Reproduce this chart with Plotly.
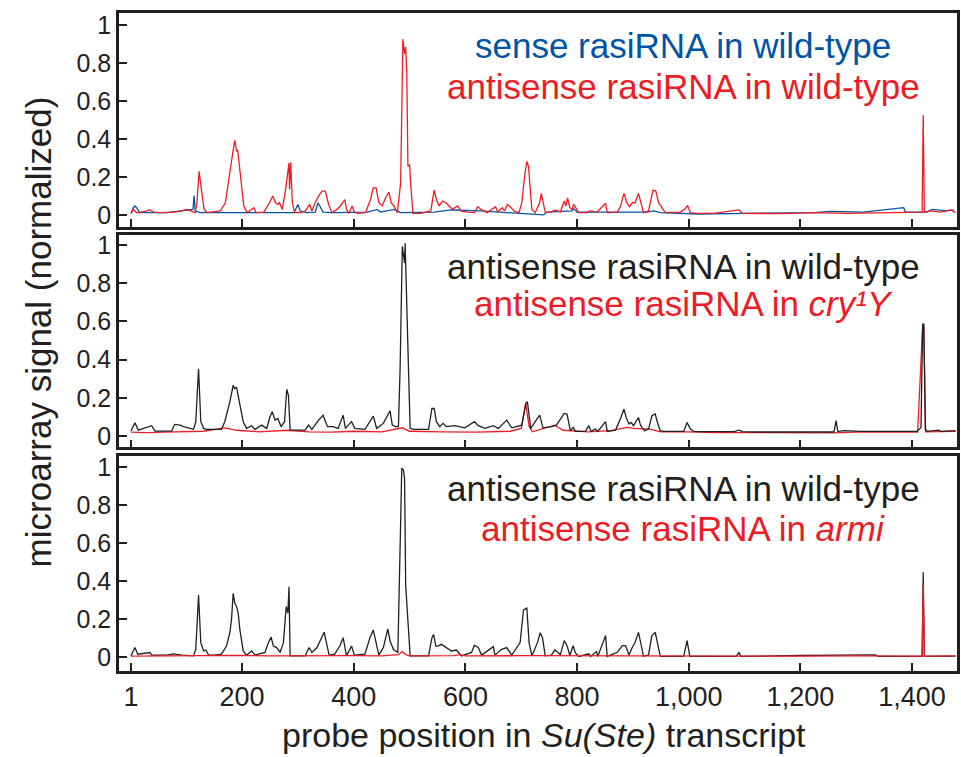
import plotly.graph_objects as go

# ---------------- data ----------------
X_TICKS = [1, 200, 400, 600, 800, 1000, 1200, 1400]
X_TICK_LABELS = ["1", "200", "400", "600", "800", "1,000", "1,200", "1,400"]
Y_TICKS = [0, 0.2, 0.4, 0.6, 0.8, 1]
Y_TICK_LABELS = ["0", "0.2", "0.4", "0.6", "0.8", "1"]

# Panel 1: antisense rasiRNA in wild-type (red)
P1_ANTI_X = [1, 5, 11, 17, 29, 35, 41, 53, 77, 92, 101, 110, 116, 119, 123, 127, 132, 137, 149, 161,
             170, 179, 185, 187, 190, 192, 194, 198, 203, 209, 216, 221, 225, 239, 249, 255, 260, 264,
             267, 272, 278, 282, 284, 285, 287, 290, 294, 305, 313, 321, 325, 331, 337, 343, 349, 355,
             361, 370, 376, 384, 387, 391, 397, 400, 406, 421, 430, 435, 440, 445, 451, 457, 463, 467,
             472, 478, 484, 488, 491, 493, 495, 497, 500, 502, 506, 520, 538, 544, 548, 553, 559, 565,
             571, 577, 586, 592, 604, 616, 622, 628, 639, 654, 658, 666, 670, 675, 679, 687, 696, 701,
             706, 710, 713, 716, 719, 725, 733, 736, 740, 743, 752, 761, 770, 777, 780, 783, 787, 791,
             794, 799, 803, 818, 823, 836, 851, 854, 872, 878, 884, 889, 894, 899, 904, 910, 915, 919,
             928, 933, 936, 941, 946, 952, 958, 985, 994, 998, 1003, 1015, 1045, 1090, 1096, 1164, 1224,
             1284, 1373, 1415, 1418, 1420, 1422, 1433, 1451, 1469, 1478]
P1_ANTI_Y = [0.010, 0.031, 0.014, 0.014, 0.023, 0.028, 0.017, 0.014, 0.017, 0.023, 0.031, 0.023, 0.014,
             0.066, 0.231, 0.136, 0.031, 0.014, 0.017, 0.023, 0.066, 0.257, 0.362, 0.393, 0.336, 0.344,
             0.292, 0.170, 0.049, 0.014, 0.028, 0.040, 0.014, 0.017, 0.066, 0.101, 0.066, 0.057, 0.066,
             0.031, 0.136, 0.240, 0.275, 0.136, 0.278, 0.066, 0.014, 0.014, 0.023, 0.057, 0.023, 0.066,
             0.101, 0.127, 0.127, 0.057, 0.014, 0.031, 0.049, 0.083, 0.031, 0.010, 0.049, 0.023, 0.010,
             0.014, 0.083, 0.144, 0.144, 0.066, 0.049, 0.092, 0.122, 0.066, 0.049, 0.014, 0.170, 0.925,
             0.849, 0.883, 0.744, 0.257, 0.266, 0.162, 0.010, 0.010, 0.023, 0.132, 0.083, 0.049, 0.075,
             0.066, 0.049, 0.031, 0.049, 0.023, 0.017, 0.014, 0.045, 0.031, 0.014, 0.045, 0.017, 0.040,
             0.023, 0.057, 0.049, 0.023, 0.014, 0.066, 0.205, 0.283, 0.257, 0.136, 0.031, 0.014, 0.066,
             0.115, 0.057, 0.014, 0.017, 0.028, 0.017, 0.075, 0.049, 0.092, 0.040, 0.031, 0.057, 0.031,
             0.014, 0.014, 0.023, 0.017, 0.063, 0.014, 0.017, 0.049, 0.115, 0.066, 0.045, 0.066, 0.066,
             0.115, 0.057, 0.014, 0.023, 0.083, 0.132, 0.127, 0.066, 0.040, 0.014, 0.017, 0.035, 0.052,
             0.014, 0.010, 0.010, 0.028, 0.010, 0.009, 0.014, 0.010, 0.014, 0.017, 0.017, 0.527, 0.017,
             0.023, 0.017, 0.028, 0.014]

# Panel 1: sense rasiRNA in wild-type (blue)
P1_SENSE_X = [1, 5, 8, 11, 16, 29, 65, 89, 107, 112, 114, 116, 125, 185, 221, 245, 293, 300, 304, 316,
              331, 336, 340, 345, 364, 424, 442, 448, 472, 484, 544, 574, 628, 740, 746, 791, 794, 800,
              925, 937, 949, 985, 1015, 1104, 1224, 1254, 1313, 1385, 1388, 1427, 1436, 1463, 1475]
P1_SENSE_Y = [0.010, 0.040, 0.049, 0.040, 0.017, 0.014, 0.014, 0.023, 0.028, 0.031, 0.104, 0.023, 0.014,
              0.014, 0.017, 0.014, 0.014, 0.057, 0.023, 0.014, 0.017, 0.066, 0.040, 0.017, 0.014, 0.017,
              0.031, 0.017, 0.031, 0.014, 0.017, 0.028, 0.023, 0.002, 0.017, 0.023, 0.035, 0.017, 0.017,
              0.023, 0.014, 0.010, 0.007, 0.010, 0.014, 0.021, 0.017, 0.040, 0.017, 0.017, 0.031, 0.023,
              0.028]

# Panel 2: antisense rasiRNA in wild-type (black)
P2_WT_X = [1, 8, 14, 38, 44, 74, 79, 89, 95, 113, 117, 122, 126, 131, 137, 163, 169, 178, 184, 187, 190,
           196, 202, 208, 217, 223, 235, 244, 250, 254, 259, 264, 270, 276, 280, 283, 286, 295, 313, 319,
           325, 337, 345, 353, 363, 372, 381, 385, 396, 402, 420, 435, 441, 453, 461, 465, 469, 475, 480,
           483, 487, 491, 492, 495, 498, 501, 507, 534, 540, 544, 548, 554, 560, 566, 581, 599, 616, 623,
           635, 650, 659, 674, 683, 701, 708, 711, 717, 733, 739, 754, 763, 777, 782, 788, 793, 797, 806,
           815, 821, 825, 833, 837, 851, 854, 869, 875, 879, 884, 888, 893, 897, 901, 906, 910, 913, 916,
           921, 928, 934, 940, 944, 949, 955, 973, 991, 997, 1003, 1009, 1021, 1081, 1090, 1096, 1128,
           1260, 1264, 1267, 1278, 1307, 1409, 1416, 1419, 1421, 1424, 1427, 1448, 1451, 1478]
P2_WT_Y = [0.026, 0.069, 0.031, 0.054, 0.026, 0.026, 0.061, 0.057, 0.049, 0.035, 0.075, 0.352, 0.075,
           0.040, 0.035, 0.035, 0.075, 0.179, 0.265, 0.248, 0.256, 0.161, 0.075, 0.040, 0.054, 0.035,
           0.057, 0.040, 0.101, 0.127, 0.083, 0.092, 0.049, 0.075, 0.244, 0.213, 0.031, 0.031, 0.031,
           0.057, 0.035, 0.083, 0.109, 0.049, 0.049, 0.040, 0.109, 0.040, 0.075, 0.040, 0.035, 0.104,
           0.040, 0.066, 0.106, 0.132, 0.057, 0.049, 0.049, 0.352, 0.993, 0.906, 1.010, 0.612, 0.352,
           0.040, 0.035, 0.035, 0.144, 0.144, 0.075, 0.049, 0.066, 0.049, 0.054, 0.043, 0.075, 0.054,
           0.040, 0.054, 0.040, 0.083, 0.043, 0.057, 0.170, 0.179, 0.040, 0.109, 0.043, 0.049, 0.057,
           0.118, 0.115, 0.028, 0.045, 0.024, 0.024, 0.024, 0.054, 0.024, 0.036, 0.024, 0.075, 0.024,
           0.031, 0.071, 0.101, 0.141, 0.097, 0.063, 0.071, 0.054, 0.080, 0.097, 0.063, 0.045, 0.028,
           0.036, 0.106, 0.115, 0.071, 0.028, 0.024, 0.024, 0.024, 0.071, 0.036, 0.024, 0.023, 0.023,
           0.031, 0.023, 0.021, 0.021, 0.080, 0.023, 0.028, 0.024, 0.024, 0.045, 0.586, 0.586, 0.036,
           0.024, 0.031, 0.024, 0.028]

# Panel 2: antisense rasiRNA in cry1Y (red)
P2_CRY_X = [1, 30, 60, 100, 130, 169, 190, 230, 280, 320, 360, 400, 450, 487, 500, 560, 620, 680, 700,
            708, 714, 720, 760, 775, 820, 860, 890, 900, 930, 950, 1000, 1050, 1150, 1260, 1300, 1410,
            1419, 1421, 1424, 1478]
P2_CRY_Y = [0.020, 0.018, 0.020, 0.022, 0.025, 0.043, 0.030, 0.022, 0.030, 0.022, 0.020, 0.025, 0.022,
            0.043, 0.025, 0.022, 0.020, 0.025, 0.040, 0.170, 0.050, 0.022, 0.057, 0.030, 0.022, 0.028,
            0.045, 0.040, 0.036, 0.022, 0.022, 0.018, 0.016, 0.016, 0.020, 0.020, 0.575, 0.575, 0.022,
            0.024]

# Panel 3: antisense rasiRNA in wild-type (black)
P3_WT_X = [1, 8, 13, 35, 38, 65, 77, 86, 92, 113, 117, 122, 126, 131, 135, 140, 151, 163, 172, 178, 181,
           184, 187, 190, 193, 196, 202, 208, 217, 223, 241, 247, 252, 256, 262, 268, 274, 279, 282, 284,
           286, 295, 313, 320, 325, 334, 341, 347, 351, 356, 366, 375, 381, 384, 387, 396, 401, 420, 429,
           435, 439, 445, 453, 461, 465, 471, 479, 483, 486, 489, 491, 493, 497, 501, 510, 534, 540, 543,
           547, 551, 557, 566, 575, 584, 593, 611, 616, 623, 629, 650, 653, 665, 674, 683, 698, 704, 710,
           714, 719, 729, 734, 738, 743, 754, 760, 766, 770, 777, 782, 787, 793, 797, 803, 821, 824, 835,
           837, 851, 854, 872, 881, 887, 893, 899, 904, 910, 915, 919, 928, 934, 940, 944, 949, 991, 997,
           1002, 1085, 1090, 1093, 1200, 1334, 1340, 1418, 1420, 1422, 1478]
P3_WT_Y = [0.005, 0.049, 0.014, 0.023, 0.009, 0.009, 0.016, 0.012, 0.009, 0.005, 0.040, 0.326, 0.075,
           0.031, 0.036, 0.009, 0.009, 0.014, 0.057, 0.127, 0.196, 0.335, 0.283, 0.266, 0.231, 0.144,
           0.031, 0.009, 0.031, 0.009, 0.023, 0.075, 0.104, 0.057, 0.049, 0.023, 0.075, 0.266, 0.231,
           0.370, 0.005, 0.005, 0.005, 0.049, 0.023, 0.049, 0.095, 0.130, 0.075, 0.009, 0.014, 0.057,
           0.101, 0.040, 0.005, 0.057, 0.009, 0.014, 0.101, 0.141, 0.092, 0.009, 0.049, 0.148, 0.083,
           0.040, 0.023, 0.700, 0.995, 0.986, 0.943, 0.378, 0.179, 0.005, 0.005, 0.005, 0.101, 0.118,
           0.057, 0.057, 0.066, 0.049, 0.031, 0.036, 0.005, 0.023, 0.061, 0.049, 0.009, 0.054, 0.009,
           0.040, 0.049, 0.009, 0.075, 0.248, 0.257, 0.075, 0.005, 0.075, 0.127, 0.101, 0.005, 0.009,
           0.036, 0.023, 0.010, 0.086, 0.059, 0.007, 0.059, 0.021, 0.002, 0.016, 0.002, 0.028, 0.002,
           0.112, 0.002, 0.024, 0.059, 0.059, 0.010, 0.051, 0.077, 0.129, 0.059, 0.003, 0.010, 0.112,
           0.129, 0.077, 0.002, 0.002, 0.086, 0.002, 0.002, 0.024, 0.002, 0.007, 0.010, 0.002, 0.002,
           0.447, 0.002, 0.004]

# Panel 3: antisense rasiRNA in armi (red)
P3_ARMI_X = [1, 50, 100, 150, 190, 250, 300, 350, 400, 450, 480, 487, 493, 500, 580, 590, 600, 700, 800,
             900, 1000, 1100, 1200, 1300, 1418, 1420, 1422, 1478]
P3_ARMI_Y = [0.004, 0.005, 0.006, 0.004, 0.008, 0.005, 0.006, 0.004, 0.006, 0.005, 0.012, 0.028, 0.012,
             0.005, 0.006, 0.012, 0.005, 0.006, 0.005, 0.004, 0.006, 0.004, 0.004, 0.005, 0.004, 0.380,
             0.004, 0.005]

RED = "#ED1C24"
BLUE = "#0054A6"
BLACK = "#231F20"
FONT = "Liberation Sans, Arial, sans-serif"

W, H = 961, 757
X_RANGE = [-20.5, 1480.5]
X_DOMAIN = [119 / W, 957 / W]
PANELS = [  # (top px, bottom px, y-range)
    (9, 225, [-0.0625, 1.0625]),
    (233, 447, [-0.060, 1.052]),
    (456, 672, [-0.073, 1.058]),
]

fig = go.Figure()

def add_line(x, y, color, idx):
    sfx = "" if idx == 1 else str(idx)
    fig.add_trace(go.Scatter(x=x, y=y, mode="lines", line=dict(color=color, width=1.3),
                             xaxis="x" + sfx, yaxis="y" + sfx, showlegend=False,
                             hoverinfo="skip"))

add_line(P1_SENSE_X, P1_SENSE_Y, BLUE, 1)
add_line(P1_ANTI_X, P1_ANTI_Y, RED, 1)
add_line(P2_CRY_X, P2_CRY_Y, RED, 2)
add_line(P2_WT_X, P2_WT_Y, BLACK, 2)
add_line(P3_WT_X, P3_WT_Y, BLACK, 3)
add_line(P3_ARMI_X, P3_ARMI_Y, RED, 3)

layout = dict(
    width=W, height=H, margin=dict(l=0, r=0, t=0, b=0),
    paper_bgcolor="white", plot_bgcolor="white",
    font=dict(family=FONT, color=BLACK),
)
for i, (top, bot, yr) in enumerate(PANELS, start=1):
    sfx = "" if i == 1 else str(i)
    layout["xaxis" + sfx] = dict(
        domain=X_DOMAIN, range=X_RANGE, anchor="y" + sfx,
        tickmode="array", tickvals=X_TICKS, ticktext=X_TICK_LABELS,
        ticks="inside", ticklen=8, tickwidth=2, tickcolor=BLACK,
        showline=True, linewidth=2.5, linecolor=BLACK, mirror=True,
        showgrid=False, zeroline=False, showticklabels=(i == 3),
        tickfont=dict(size=27, family=FONT, color=BLACK),
    )
    layout["yaxis" + sfx] = dict(
        domain=[1 - bot / H, 1 - top / H], range=yr, anchor="x" + sfx,
        tickmode="array", tickvals=Y_TICKS, ticktext=Y_TICK_LABELS,
        ticks="inside", ticklen=8, tickwidth=2, tickcolor=BLACK,
        showline=True, linewidth=2.5, linecolor=BLACK, mirror=True,
        showgrid=False, zeroline=False,
        tickfont=dict(size=25, family=FONT, color=BLACK),
    )
fig.update_layout(**layout)

XC = 683 / W
LEG = [
    (42, "sense rasiRNA in wild-type", BLUE),
    (83, "antisense rasiRNA in wild-type", RED),
    (265, "antisense rasiRNA in wild-type", BLACK),
    (302, "antisense rasiRNA in <i>cry\u00b9Y</i>", RED),
    (488, "antisense rasiRNA in wild-type", BLACK),
    (529, "antisense rasiRNA in <i>armi</i>", RED),
]
for py, txt, col in LEG:
    fig.add_annotation(x=XC, y=1 - py / H, xref="paper", yref="paper", text=txt,
                       showarrow=False, xanchor="center", yanchor="middle",
                       font=dict(size=35, family=FONT, color=col))

fig.add_annotation(x=38 / W, y=1 - 331 / H, xref="paper", yref="paper",
                   text="microarray signal (normalized)", textangle=-90, showarrow=False,
                   xanchor="center", yanchor="middle", font=dict(size=35, family=FONT, color=BLACK))
fig.add_annotation(x=544 / W, y=1 - 737 / H, xref="paper", yref="paper",
                   text="probe position in <i>Su(Ste)</i> transcript", showarrow=False,
                   xanchor="center", yanchor="middle", font=dict(size=34, family=FONT, color=BLACK))

fig.write_html("out.html")
